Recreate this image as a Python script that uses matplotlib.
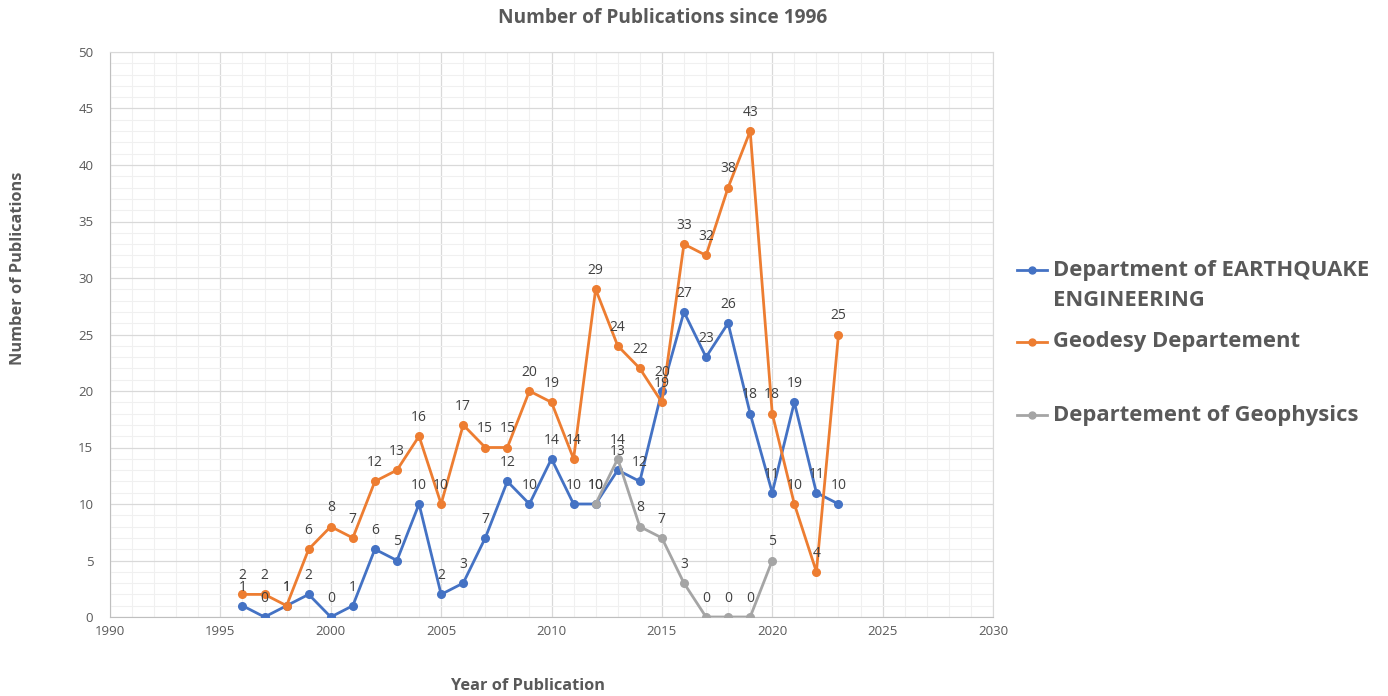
import matplotlib.pyplot as plt
from matplotlib.lines import Line2D
from matplotlib.ticker import MultipleLocator

plt.rcParams['font.family'] = ['Open Sans', 'DejaVu Sans']

years_eq = list(range(1996, 2024))
earthquake = [1, 0, 1, 2, 0, 1, 6, 5, 10, 2, 3, 7, 12, 10, 14, 10,
              10, 13, 12, 20, 27, 23, 26, 18, 11, 19, 11, 10]

years_geo = list(range(1996, 2024))
geodesy = [2, 2, 1, 6, 8, 7, 12, 13, 16, 10, 17, 15, 15, 20, 19, 14,
           29, 24, 22, 19, 33, 32, 38, 43, 18, 10, 4, 25]

years_gph = list(range(2012, 2021))
geophysics = [10, 14, 8, 7, 3, 0, 0, 0, 5]

series = [
    ("Department of EARTHQUAKE\nENGINEERING", years_eq, earthquake, "#4472C4"),
    ("Geodesy Departement", years_geo, geodesy, "#ED7D31"),
    ("Departement of Geophysics", years_gph, geophysics, "#A5A5A5"),
]

text_col = "#595959"
W, H = 1388, 696

fig = plt.figure(figsize=(W / 100, H / 100), dpi=100)
ax = fig.add_axes([110 / W, 1 - 617 / H, (993 - 110) / W, (617 - 52) / H])

for label, xs, ys, col in series:
    ax.plot(xs, ys, color=col, lw=2.0, marker="o", ms=5.5, zorder=3)
    for x, y in zip(xs, ys):
        ax.annotate(str(y), (x, y), xytext=(0, 8), textcoords="offset points",
                    ha="center", va="bottom", fontsize=10, color="#404040", zorder=4)

ax.set_xlim(1990, 2030)
ax.set_ylim(0, 50)
ax.xaxis.set_major_locator(MultipleLocator(5))
ax.xaxis.set_minor_locator(MultipleLocator(1))
ax.yaxis.set_major_locator(MultipleLocator(5))
ax.yaxis.set_minor_locator(MultipleLocator(1))
ax.grid(which="major", color="#D9D9D9", lw=0.9)
ax.grid(which="minor", color="#F0F0F0", lw=0.8)
ax.set_axisbelow(True)
ax.tick_params(which="both", length=0, colors=text_col, labelsize=9.5)
ax.tick_params(axis="x", pad=6)
ax.tick_params(axis="y", pad=12)
for s in ax.spines.values():
    s.set_color("#D9D9D9")
ax.spines["left"].set_color("#BFBFBF")
ax.spines["bottom"].set_color("#BFBFBF")

fig.text(663 / W, 1 - 18 / H, "Number of Publications since 1996", ha="center", va="center",
         fontsize=13.8, fontweight="bold", color=text_col)
fig.text(528 / W, 1 - 686 / H, "Year of Publication", ha="center", va="center",
         fontsize=11.8, fontweight="bold", color=text_col)
fig.text(18 / W, 1 - 268 / H, "Number of Publications", ha="center", va="center",
         rotation=90, fontsize=11.8, fontweight="bold", color=text_col)

# legend drawn by hand so the marker sits on the first text line
leg_y = [270, 342, 415]
for (label, _, _, col), py in zip(series, leg_y):
    yf = 1 - py / H
    fig.add_artist(Line2D([1017 / W, 1047 / W], [yf, yf], color=col, lw=2.0))
    fig.add_artist(Line2D([1032 / W], [yf], color=col, marker="o", ms=5, lw=0))
    for i, ln in enumerate(label.split("\n")):
        fig.text(1053 / W, 1 - (py + 30 * i) / H, ln, ha="left", va="center",
                 fontsize=15.8, fontweight="bold", color=text_col)

fig.savefig("out.png", dpi=100)
